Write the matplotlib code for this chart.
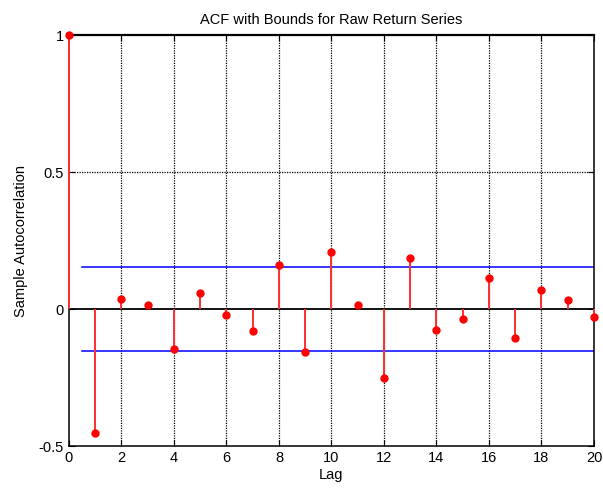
#!/usr/bin/env python3
"""Sample ACF of the raw return series with approximate 95% bounds."""

import numpy as np
import matplotlib
matplotlib.use('Agg')
import matplotlib.pyplot as plt

plt.rcParams['font.family'] = ['Liberation Sans', 'DejaVu Sans']
plt.rcParams['axes.unicode_minus'] = False

# sample autocorrelation, lags 0..20
lags = np.arange(0, 21)
acf = [1.0, -0.454, 0.038, 0.015, -0.146, 0.059, -0.023, -0.080, 0.161,
       -0.156, 0.209, 0.016, -0.252, 0.186, -0.077, -0.037, 0.115, -0.107,
       0.068, 0.034, -0.028]
bound = 0.155
bound_span = [0.5, 20]

fig = plt.figure(figsize=(6.03, 4.91), dpi=100)
ax = fig.add_axes([0.1144, 0.0916, 0.8706, 0.8371])

# grid first so the stems sit on top
for x in range(2, 20, 2):
    ax.axvline(x, color='black', linestyle=(0, (1, 1)), linewidth=0.9, zorder=0)
ax.axhline(0.5, color='black', linestyle=(0, (1, 1)), linewidth=0.9, zorder=0)

ax.axhline(0, color='black', linewidth=1.3, zorder=1)
ax.plot(bound_span, [bound, bound], color='#0000ff', linewidth=1.1, zorder=1)
ax.plot(bound_span, [-bound, -bound], color='#0000ff', linewidth=1.1, zorder=1)

ax.vlines(lags, 0, acf, color='#ff3030', linewidth=1.4, zorder=3, clip_on=False)
ax.plot(lags, acf, 'o', color='red', markersize=5, zorder=4, clip_on=False)

ax.set_xlim(0, 20)
ax.set_ylim(-0.5, 1)
ax.set_xticks(range(0, 21, 2))
ax.set_yticks([-0.5, 0, 0.5, 1])
ax.set_yticklabels(['-0.5', '0', '0.5', '1'])
ax.tick_params(direction='in', top=True, right=True, labelsize=10.5, length=4, width=0.8)
for sp in ax.spines.values():
    sp.set_linewidth(1.1)
ax.spines['top'].set_linewidth(1.6)

ax.set_title('ACF with Bounds for Raw Return Series', fontsize=10.5, pad=8)
ax.set_xlabel('Lag', fontsize=10.5, labelpad=2)
ax.set_ylabel('Sample Autocorrelation', fontsize=10.5, labelpad=8)

fig.savefig('out.png', dpi=100)
